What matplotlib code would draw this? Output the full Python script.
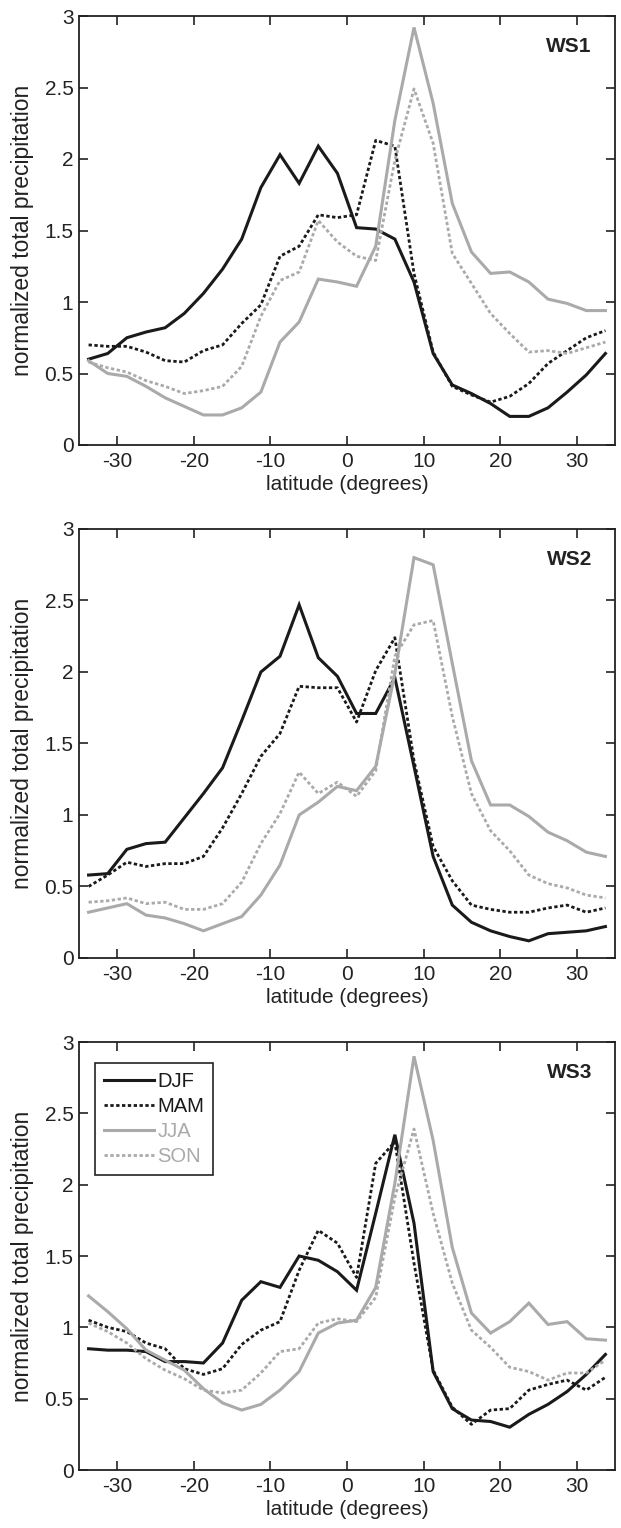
import numpy as np
import matplotlib
matplotlib.use("Agg")
import matplotlib.pyplot as plt

plt.rcParams['font.family'] = ['Liberation Sans', 'DejaVu Sans']

lat = np.arange(-33.75, 34.0, 2.5)

ws1_djf = [0.60, 0.64, 0.75, 0.79, 0.82, 0.92, 1.06, 1.23, 1.44, 1.80, 2.03, 1.83, 2.09, 1.90,
           1.52, 1.51, 1.44, 1.14, 0.64, 0.42, 0.36, 0.29, 0.20, 0.20, 0.26, 0.37, 0.49, 0.64]
ws1_mam = [0.70, 0.69, 0.69, 0.65, 0.59, 0.58, 0.66, 0.70, 0.85, 0.98, 1.32, 1.39, 1.61, 1.59,
           1.61, 2.13, 2.09, 1.20, 0.65, 0.41, 0.35, 0.30, 0.34, 0.43, 0.57, 0.66, 0.75, 0.80]
ws1_jja = [0.59, 0.50, 0.48, 0.41, 0.33, 0.27, 0.21, 0.21, 0.26, 0.37, 0.72, 0.86, 1.16, 1.14,
           1.11, 1.39, 2.27, 2.92, 2.39, 1.69, 1.35, 1.20, 1.21, 1.14, 1.02, 0.99, 0.94, 0.94]
ws1_son = [0.58, 0.54, 0.51, 0.45, 0.41, 0.36, 0.38, 0.41, 0.55, 0.90, 1.15, 1.21, 1.57, 1.42,
           1.32, 1.29, 1.99, 2.49, 2.11, 1.34, 1.13, 0.92, 0.78, 0.65, 0.66, 0.64, 0.68, 0.72]

ws2_djf = [0.58, 0.59, 0.76, 0.80, 0.81, 0.98, 1.15, 1.33, 1.66, 2.00, 2.11, 2.47, 2.10, 1.97,
           1.71, 1.71, 1.96, 1.34, 0.71, 0.37, 0.25, 0.19, 0.15, 0.12, 0.17, 0.18, 0.19, 0.22]
ws2_mam = [0.50, 0.58, 0.67, 0.64, 0.66, 0.66, 0.71, 0.91, 1.15, 1.41, 1.57, 1.90, 1.89, 1.89,
           1.65, 2.01, 2.24, 1.38, 0.78, 0.54, 0.37, 0.34, 0.32, 0.32, 0.35, 0.37, 0.32, 0.35]
ws2_jja = [0.32, 0.35, 0.38, 0.30, 0.28, 0.24, 0.19, 0.24, 0.29, 0.44, 0.65, 1.00, 1.09, 1.20,
           1.17, 1.34, 1.99, 2.80, 2.75, 2.06, 1.38, 1.07, 1.07, 0.99, 0.88, 0.82, 0.74, 0.71]
ws2_son = [0.39, 0.40, 0.42, 0.38, 0.39, 0.34, 0.34, 0.38, 0.53, 0.80, 1.01, 1.30, 1.15, 1.23,
           1.13, 1.31, 2.11, 2.33, 2.36, 1.69, 1.15, 0.89, 0.75, 0.58, 0.52, 0.49, 0.44, 0.42]

ws3_djf = [0.85, 0.84, 0.84, 0.83, 0.76, 0.76, 0.75, 0.89, 1.19, 1.32, 1.28, 1.50, 1.47, 1.39,
           1.26, 1.80, 2.35, 1.73, 0.69, 0.43, 0.35, 0.34, 0.30, 0.39, 0.46, 0.55, 0.67, 0.81]
ws3_mam = [1.05, 1.00, 0.97, 0.89, 0.85, 0.71, 0.67, 0.71, 0.88, 0.98, 1.04, 1.40, 1.68, 1.59,
           1.35, 2.15, 2.30, 1.45, 0.70, 0.44, 0.32, 0.42, 0.43, 0.56, 0.60, 0.63, 0.56, 0.65]
ws3_jja = [1.22, 1.11, 0.99, 0.84, 0.77, 0.70, 0.57, 0.47, 0.42, 0.46, 0.56, 0.69, 0.96, 1.03,
           1.05, 1.28, 2.01, 2.90, 2.31, 1.56, 1.10, 0.96, 1.04, 1.17, 1.02, 1.04, 0.92, 0.91]
ws3_son = [1.03, 0.97, 0.89, 0.78, 0.70, 0.64, 0.56, 0.54, 0.56, 0.68, 0.83, 0.85, 1.03, 1.06,
           1.04, 1.21, 1.91, 2.39, 1.80, 1.31, 0.98, 0.86, 0.72, 0.69, 0.63, 0.68, 0.68, 0.77]

seasons = ['DJF', 'MAM', 'JJA', 'SON']
panels = ['WS1', 'WS2', 'WS3']
data = [
    [ws1_djf, ws1_mam, ws1_jja, ws1_son],
    [ws2_djf, ws2_mam, ws2_jja, ws2_son],
    [ws3_djf, ws3_mam, ws3_jja, ws3_son],
]
xticks = [-30, -20, -10, 0, 10, 20, 30]
yticks = [0, 0.5, 1, 1.5, 2, 2.5, 3]
ytick_labels = ['0', '0.5', '1', '1.5', '2', '2.5', '3']

black = '#1a1a1a'
gray = '#aaaaaa'
txtc = '#222222'
styles = [
    dict(color=black, lw=2.2, ls='-'),
    dict(color=black, lw=2.0, ls=(0, (1.2, 0.9))),
    dict(color=gray, lw=2.2, ls='-'),
    dict(color=gray, lw=2.0, ls=(0, (1.2, 0.9))),
]

W, H = 621, 1528
fig = plt.figure(figsize=(W / 100, H / 100), dpi=100)
tops = [16, 529, 1042]
bottoms = [445, 958, 1470]
left_px, right_px = 79, 615

for i in range(3):
    ax = fig.add_axes([left_px / W, 1 - bottoms[i] / H, (right_px - left_px) / W,
                       (bottoms[i] - tops[i]) / H])
    for j in range(4):
        ax.plot(lat, data[i][j], label=seasons[j], solid_joinstyle='miter',
                dash_capstyle='butt', **styles[j])
    ax.set_xlim(-35, 35)
    ax.set_ylim(0, 3)
    ax.set_xticks(xticks)
    ax.set_xticklabels([str(t) for t in xticks])
    ax.set_yticks(yticks)
    ax.set_yticklabels(ytick_labels)
    ax.tick_params(direction='in', top=True, right=True, length=6.5, width=1.2,
                   labelsize=15, colors=txtc)
    ax.tick_params(axis='x', pad=5)
    ax.tick_params(axis='y', pad=4)
    for s in ax.spines.values():
        s.set_linewidth(1.3)
        s.set_color(txtc)
    ax.set_xlabel('latitude (degrees)', fontsize=15, color=txtc, labelpad=3)
    ax.set_ylabel('normalized total precipitation', fontsize=16.5, color=txtc)
    ax.yaxis.set_label_coords(-0.084, 0.5)
    ax.text(0.957, 0.915, panels[i], transform=ax.transAxes, ha='right', va='baseline',
            fontsize=15, fontweight='bold', color=txtc)
    if i == 2:
        leg = ax.legend(loc='upper left', bbox_to_anchor=(0.03, 0.951), fontsize=14.5,
                        frameon=True, fancybox=False, edgecolor=txtc, framealpha=1,
                        handlelength=2.5, handletextpad=0.15, borderpad=0.45,
                        labelspacing=0.3, borderaxespad=0)
        leg.get_frame().set_linewidth(1.2)
        for txt, st in zip(leg.get_texts(), styles):
            txt.set_color(st['color'])

fig.savefig('out.png', dpi=100)
